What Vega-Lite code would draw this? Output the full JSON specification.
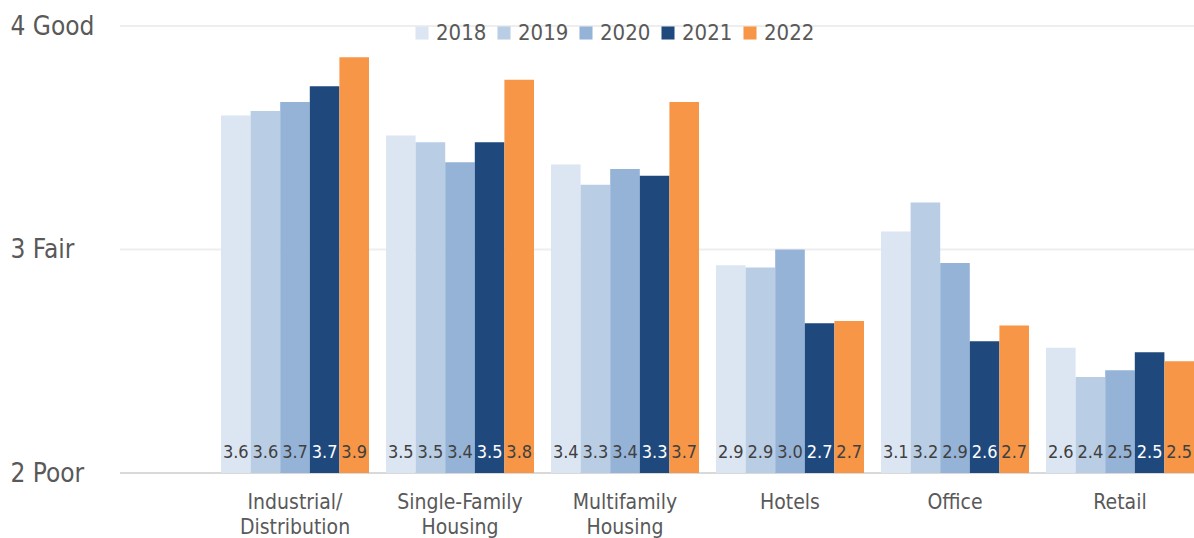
{
  "$schema": "https://vega.github.io/schema/vega-lite/v6.json",
  "width": 1074,
  "height": 447,
  "autosize": "none",
  "padding": {"left": 120, "top": 26, "right": 0, "bottom": 65},
  "background": "white",
  "config": {
    "font": "DejaVu Sans Condensed, Liberation Sans Narrow, Liberation Sans",
    "view": {"stroke": null}
  },
  "data": {
    "values": [
      {"sector": "Industrial/Distribution", "year": "2018", "score": 3.60},
      {"sector": "Industrial/Distribution", "year": "2019", "score": 3.62},
      {"sector": "Industrial/Distribution", "year": "2020", "score": 3.66},
      {"sector": "Industrial/Distribution", "year": "2021", "score": 3.73},
      {"sector": "Industrial/Distribution", "year": "2022", "score": 3.86},
      {"sector": "Single-Family Housing", "year": "2018", "score": 3.51},
      {"sector": "Single-Family Housing", "year": "2019", "score": 3.48},
      {"sector": "Single-Family Housing", "year": "2020", "score": 3.39},
      {"sector": "Single-Family Housing", "year": "2021", "score": 3.48},
      {"sector": "Single-Family Housing", "year": "2022", "score": 3.76},
      {"sector": "Multifamily Housing", "year": "2018", "score": 3.38},
      {"sector": "Multifamily Housing", "year": "2019", "score": 3.29},
      {"sector": "Multifamily Housing", "year": "2020", "score": 3.36},
      {"sector": "Multifamily Housing", "year": "2021", "score": 3.33},
      {"sector": "Multifamily Housing", "year": "2022", "score": 3.66},
      {"sector": "Hotels", "year": "2018", "score": 2.93},
      {"sector": "Hotels", "year": "2019", "score": 2.92},
      {"sector": "Hotels", "year": "2020", "score": 3.00},
      {"sector": "Hotels", "year": "2021", "score": 2.67},
      {"sector": "Hotels", "year": "2022", "score": 2.68},
      {"sector": "Office", "year": "2018", "score": 3.08},
      {"sector": "Office", "year": "2019", "score": 3.21},
      {"sector": "Office", "year": "2020", "score": 2.94},
      {"sector": "Office", "year": "2021", "score": 2.59},
      {"sector": "Office", "year": "2022", "score": 2.66},
      {"sector": "Retail", "year": "2018", "score": 2.56},
      {"sector": "Retail", "year": "2019", "score": 2.43},
      {"sector": "Retail", "year": "2020", "score": 2.46},
      {"sector": "Retail", "year": "2021", "score": 2.54},
      {"sector": "Retail", "year": "2022", "score": 2.50}
    ]
  },
  "layer": [
    {
      "data": {"values": [{"v": 4, "c": "g"}, {"v": 3, "c": "g"}, {"v": 2, "c": "b"}]},
      "mark": {"type": "rule", "strokeWidth": 2},
      "encoding": {
        "y": {"field": "v", "type": "quantitative", "scale": {"domain": [2, 4], "nice": false, "zero": false}},
        "color": {
          "field": "c",
          "type": "nominal",
          "scale": {"domain": ["g", "b"], "range": ["#eeeeee", "#d9d9d9"]},
          "legend": null
        }
      }
    },
    {
      "encoding": {
        "x": {
          "field": "sector",
          "type": "nominal",
          "sort": null,
          "scale": {"range": [92.5, 1082.5], "paddingInner": 0.103, "paddingOuter": 0.0515},
          "axis": {
            "title": null,
            "labelAngle": 0,
            "labelFontSize": 21,
            "labelColor": "#595959",
            "labelPadding": 18,
            "labelLineHeight": 25,
            "labelExpr": "datum.value == 'Industrial/Distribution' ? ['Industrial/', 'Distribution'] : split(datum.label, ' ')",
            "ticks": false,
            "domain": false,
            "grid": false
          }
        },
        "xOffset": {"field": "year", "type": "nominal", "scale": {"paddingInner": 0, "paddingOuter": 0}},
        "y": {
          "field": "score",
          "type": "quantitative",
          "scale": {"domain": [2, 4], "nice": false, "zero": false},
          "axis": {
            "title": null,
            "values": [2, 3, 4],
            "labelExpr": "datum.value == 4 ? '4  Good' : datum.value == 3 ? '3  Fair' : '2  Poor'",
            "labelAlign": "left",
            "labelPadding": 110,
            "labelFontSize": 26,
            "labelColor": "#595959",
            "ticks": false,
            "domain": false,
            "grid": false
          }
        }
      },
      "layer": [
        {
          "mark": {"type": "bar", "clip": false},
          "encoding": {
            "y2": {"datum": 2},
            "fill": {
              "field": "year",
              "type": "nominal",
              "scale": {
                "domain": ["2018", "2019", "2020", "2021", "2022"],
                "range": ["#dce6f2", "#b9cde5", "#95b3d7", "#1f497d", "#f79646"]
              },
              "legend": {
                "title": null,
                "orient": "none",
                "direction": "horizontal",
                "legendX": 291,
                "legendY": -4,
                "symbolType": "square",
                "symbolSize": 170,
                "symbolStrokeWidth": 0,
                "labelFontSize": 22,
                "labelColor": "#595959",
                "labelOffset": 3,
                "columnPadding": 6
              }
            }
          }
        },
        {
          "mark": {"type": "text", "fontSize": 18, "dy": -20, "baseline": "middle"},
          "encoding": {
            "y": {"datum": 2},
            "text": {"field": "score", "type": "quantitative", "format": ".1f"},
            "color": {
              "condition": {"test": "datum.year == '2021'", "value": "white"},
              "value": "#404040"
            }
          }
        }
      ]
    }
  ]
}
